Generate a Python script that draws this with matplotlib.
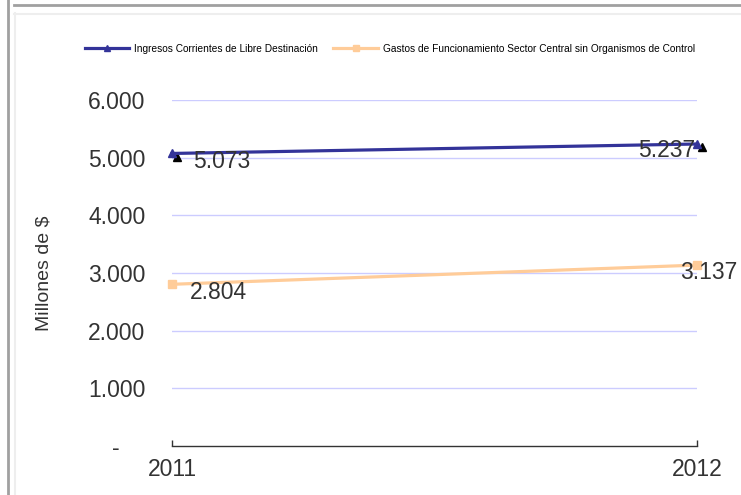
import matplotlib
matplotlib.use("Agg")
import matplotlib.pyplot as plt
from matplotlib.lines import Line2D
from matplotlib import transforms

plt.rcParams['font.family'] = ['Liberation Sans', 'DejaVu Sans']

years = ["2011", "2012"]
ingresos = [5073, 5237]
gastos = [2804, 3137]
ingresos_labels = ["5.073", "5.237"]
gastos_labels = ["2.804", "3.137"]
yticks = [0, 1000, 2000, 3000, 4000, 5000, 6000]
ytick_labels = ["-    ", "1.000", "2.000", "3.000", "4.000", "5.000", "6.000"]
series_names = ["Ingresos Corrientes de Libre Destinación",
                "Gastos de Funcionamiento Sector Central sin Organismos de Control"]

W, H = 741, 495
FS = 16.5
fig = plt.figure(figsize=(W / 100, H / 100), dpi=100)
fig.patch.set_facecolor("white")

# frame decorations
fig.add_artist(Line2D([7.5 / W, 7.5 / W], [0, 1], color="#a0a0a0", lw=2.0))
fig.add_artist(Line2D([14 / W, 1], [1 - 4.5 / H, 1 - 4.5 / H], color="#a0a0a0", lw=2.0))
fig.add_artist(Line2D([14.5 / W, 14.5 / W], [0, 1 - 13 / H], color="#eeeeee", lw=1.5))
fig.add_artist(Line2D([14 / W, 1], [1 - 13.5 / H, 1 - 13.5 / H], color="#eeeeee", lw=1.5))

left, right = 172 / W, 697 / W
bottom, top = 1 - 446 / H, 1 - 100 / H
ax = fig.add_axes([left, bottom, right - left, top - bottom])
ax.set_facecolor("white")

x = list(range(len(years)))
ax.set_xlim(0, 1)
ax.set_ylim(0, 6000)

for y in yticks[1:]:
    ax.axhline(y, color="#ccccff", lw=1.0, zorder=1)

ax.plot(x, gastos, color="#ffcc99", lw=2.3, marker="s", markersize=6,
        markerfacecolor="#ffcc99", markeredgecolor="#ffcc99", zorder=3, clip_on=False,
        label=series_names[1])
# black shadow triangles
shadow = transforms.offset_copy(ax.transData, fig=fig, x=3.5, y=-2.5, units="points")
ax.plot(x, ingresos, linestyle="none", marker="^", markersize=6, color="black",
        transform=shadow, zorder=3, clip_on=False)
ax.plot(x, ingresos, color="#333399", lw=2.3, marker="^", markersize=6,
        markerfacecolor="#333399", markeredgecolor="#333399", zorder=4, clip_on=False,
        label=series_names[0])

lab_kw = dict(textcoords="offset points", fontsize=FS, color="#333333", va="center",
              annotation_clip=False, zorder=5)
ax.annotate(ingresos_labels[0], (x[0], ingresos[0]), xytext=(15, -6), ha="left", **lab_kw)
ax.annotate(ingresos_labels[1], (x[1], ingresos[1]), xytext=(-1, -5), ha="right", **lab_kw)
ax.annotate(gastos_labels[0], (x[0], gastos[0]), xytext=(13, -6), ha="left", **lab_kw)
ax.annotate(gastos_labels[1], (x[1], gastos[1]), xytext=(-12, -5), ha="left", **lab_kw)

ax.set_yticks(yticks)
ax.set_yticklabels(ytick_labels)
ax.set_xticks(x)
ax.set_xticklabels(years)
ax.tick_params(axis="y", length=0, pad=19, labelsize=FS, labelcolor="#333333")
ax.tick_params(axis="x", direction="in", length=4, width=1, color="#333333",
               pad=9, labelsize=FS, labelcolor="#333333")
for s in ["top", "right", "left"]:
    ax.spines[s].set_visible(False)
ax.spines["bottom"].set_color("#333333")
ax.spines["bottom"].set_linewidth(1.0)

fig.text(44 / W, 1 - 273 / H, "Millones de $", rotation=90, ha="center", va="center",
         fontsize=14, color="#333333")

h, l = ax.get_legend_handles_labels()
order = [1, 0]
fig.legend([h[i] for i in order], [l[i] for i in order], loc="center",
           bbox_to_anchor=(390 / W, 1 - 49 / H), ncol=2, frameon=False,
           fontsize=7.3, handlelength=4.4, handletextpad=0.5, columnspacing=1.5,
           markerscale=0.8)

fig.savefig("out.png", dpi=100, facecolor="white")
